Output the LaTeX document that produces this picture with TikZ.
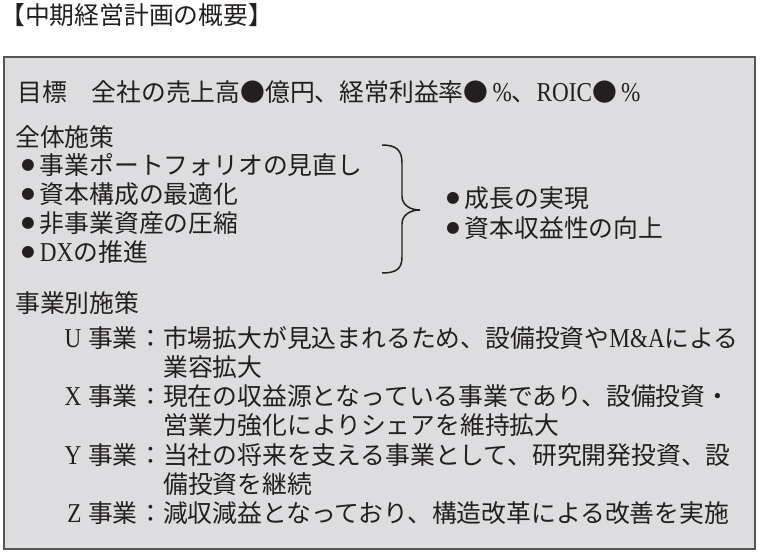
\documentclass[tikz,border=0pt]{standalone}
\usepackage{fontspec}
\setmainfont{Noto Sans CJK JP}
\newfontfamily\latin[Scale=1.1,FakeStretch=0.85]{Liberation Serif}
\definecolor{panelfill}{RGB}{221,221,223}
\definecolor{panelline}{RGB}{85,85,85}
\definecolor{inkgray}{RGB}{35,31,32}
\newcommand\blt{\makebox[14pt][l]{\raisebox{3pt}{\fontsize{10pt}{10pt}\selectfont ●}}}

\begin{document}
\begin{tikzpicture}[x=0.75pt,y=-0.75pt,
        txt/.style={anchor=west,inner sep=0pt,text height=16.4pt,text depth=2.2pt,text=inkgray,font=\fontsize{18.6pt}{18.6pt}\selectfont},
        lbl/.style={txt,anchor=east},
        panel/.style={draw=panelline,fill=panelfill,line width=1.2pt},
        bracket/.style={draw=inkgray,line width=1.1pt}]
        \useasboundingbox (0,0) rectangle (761,557);
        \path[panel] (4,57) rectangle (755,549);
        \node [txt] (title) at (0,15) {【中期経営計画の概要】};
        \node [txt] (goal) at (17,92) {目標　全社の売上高●億円、経常利益率●\,{\latin\%}、{\latin ROIC}●\,{\latin\%}};
        \node [txt] (allhead) at (15,137) {全体施策};
        \node [txt] (m1) at (21,165) {\blt 事業ポートフォリオの見直し};
        \node [txt] (m2) at (21,194) {\blt 資本構成の最適化};
        \node [txt] (m3) at (21,223) {\blt 非事業資産の圧縮};
        \node [txt] (m4) at (21,252) {\blt {\latin DX}の推進};
        \node [txt] (g1) at (446,198) {\blt 成長の実現};
        \node [txt] (g2) at (446,228) {\blt 資本収益性の向上};
        \draw[bracket] (382,145) .. controls (396,145) and (402,150) .. (402,163) -- (402,196) .. controls (402,205) and (410,210) .. (420,210) .. controls (410,210) and (402,215) .. (402,224) -- (402,257) .. controls (402,269) and (396,273) .. (382,273);
        \node [txt] (bizhead) at (15,303) {事業別施策};
        \node [lbl] (ulbl) at (138,338) {{\latin U}\hspace{5pt}事業};
        \node [txt] (utxt) at (ulbl.east) {：市場拡大が見込まれるため、設備投資や{\latin M\&A}による};
        \node [txt] (utxt2) at (163,367) {業容拡大};
        \node [lbl] (xlbl) at (138,396) {{\latin X}\hspace{5pt}事業};
        \node [txt] (xtxt) at (xlbl.east) {：現在の収益源となっている事業であり、設備投資・};
        \node [txt] (xtxt2) at (163,425) {営業力強化によりシェアを維持拡大};
        \node [lbl] (ylbl) at (138,455) {{\latin Y}\hspace{5pt}事業};
        \node [txt] (ytxt) at (ylbl.east) {：当社の将来を支える事業として、研究開発投資、設};
        \node [txt] (ytxt2) at (163,484) {備投資を継続};
        \node [lbl] (zlbl) at (138,513) {{\latin Z}\hspace{5pt}事業};
        \node [txt] (ztxt) at (zlbl.east) {：減収減益となっており、構造改革による改善を実施};
\end{tikzpicture}
\end{document}
